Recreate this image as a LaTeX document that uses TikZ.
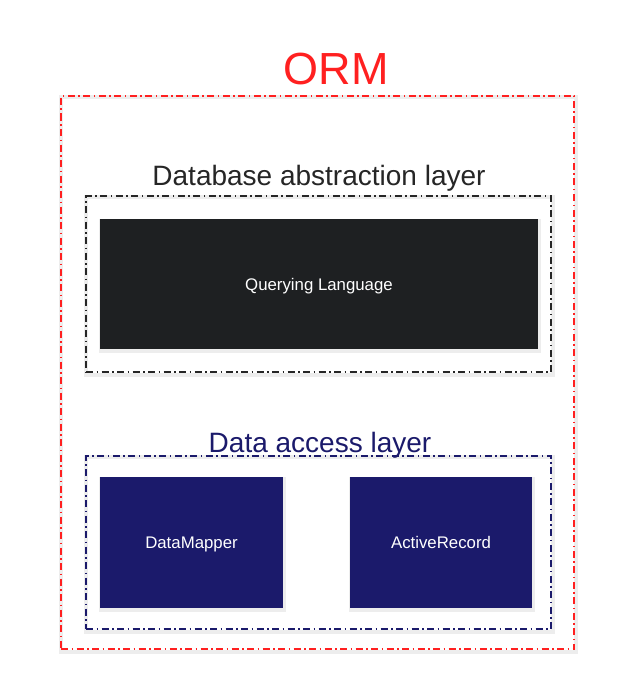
\documentclass[tikz,border=0pt]{standalone}
\usepackage{fontspec}
\setmainfont{Liberation Sans}
\usetikzlibrary{backgrounds}
\definecolor{ormred}{HTML}{FF2020}
\definecolor{navy}{HTML}{1B1A6B}
\definecolor{darkbox}{HTML}{1E2022}
\tikzset{
  dashdot/.style={dash pattern=on 7pt off 3.5pt on 1.5pt off 3.5pt, line width=1.4pt},
  layerbox/.style={dashdot, fill=none, inner sep=0pt},
  compbox/.style={draw=none, text=white, font=\fontsize{16.8}{20}\selectfont, inner sep=0pt, text height=12pt, text depth=0pt},
  softshadow/.style={draw=black, draw opacity=0.07, line width=4pt},
}
\begin{document}
\begin{tikzpicture}[x=1pt, y=-1pt]
\useasboundingbox (0,0) rectangle (631,679);
% outer ORM
\node[layerbox, draw=ormred, minimum width=513pt, minimum height=553pt] (ormbox) at (317.5,372.5) {};
\node[text=ormred, font=\fontsize{45}{50}\selectfont] (orm) at (336,69) {ORM};
% database abstraction layer
\node[layerbox, draw=black!85, minimum width=465pt, minimum height=176pt] (dalbox) at (318.5,284) {};
\node[text=black!85, font=\fontsize{28}{32}\selectfont] (dal) at (319,178) {Database abstraction layer};
\node[compbox, fill=darkbox, minimum width=438pt, minimum height=130pt] (ql) at (319,284) {Querying Language};
% data access layer
\node[layerbox, draw=navy, minimum width=465pt, minimum height=173pt] (daclbox) at (318.5,542.5) {};
\node[text=navy, font=\fontsize{28}{32}\selectfont] (dacl) at (320,445) {Data access layer};
\node[compbox, fill=navy, minimum width=183pt, minimum height=131pt] (dm) at (191.5,542.5) {DataMapper};
\node[compbox, fill=navy, minimum width=182pt, minimum height=131pt] (ar) at (441,542.5) {ActiveRecord};
% white page and soft shadows behind everything
\begin{scope}[on background layer]
\fill[white] (0,0) rectangle (631,679);
\foreach \n in {ormbox,dalbox,daclbox,ql,dm,ar}{
  \draw[softshadow] ([xshift=1pt,yshift=-2pt]\n.north west) rectangle ([xshift=1pt,yshift=-2pt]\n.south east);
}
\end{scope}
\end{tikzpicture}
\end{document}
